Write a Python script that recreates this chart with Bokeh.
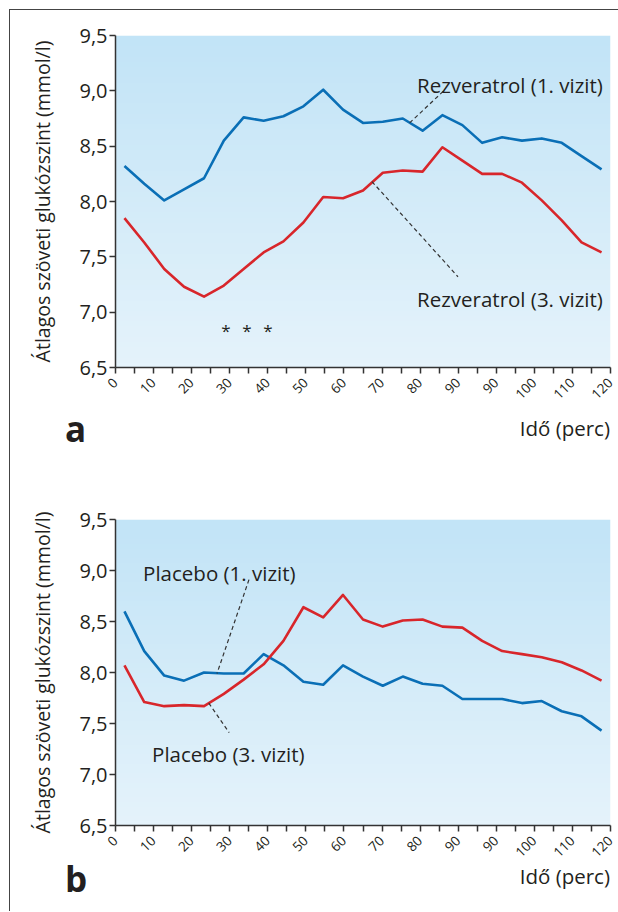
import numpy as np
from bokeh.plotting import figure
from bokeh.layouts import column
from bokeh.models import FixedTicker, Label, Div
from bokeh.core.properties import value
from bokeh.embed import file_html
from bokeh.resources import INLINE

# sample positions along the x axis, in axis-step units (27 ticks, labelled every 2nd)
sample_pos = [0.47, 1.51, 2.56, 3.60, 4.65, 5.69, 6.73, 7.78, 8.82, 9.87, 10.91, 11.95, 13.00,
              14.04, 15.09, 16.13, 17.17, 18.22, 19.26, 20.31, 21.35, 22.39, 23.44, 24.48, 25.53]
x_tick_labels = ["0", "10", "20", "30", "40", "50", "60", "70", "80", "90", "90", "100", "110", "120"]
y_ticks = [6.5, 7.0, 7.5, 8.0, 8.5, 9.0, 9.5]
y_tick_labels = ["6,5", "7,0", "7,5", "8,0", "8,5", "9,0", "9,5"]

# panel a: Rezveratrol
rez_v1 = [8.32, 8.16, 8.01, 8.11, 8.21, 8.55, 8.76, 8.73, 8.77, 8.86, 9.01, 8.83, 8.71,
          8.72, 8.75, 8.64, 8.78, 8.69, 8.53, 8.58, 8.55, 8.57, 8.53, 8.41, 8.29]
rez_v3 = [7.85, 7.63, 7.39, 7.23, 7.14, 7.24, 7.39, 7.54, 7.64, 7.81, 8.04, 8.03, 8.10,
          8.26, 8.28, 8.27, 8.49, 8.37, 8.25, 8.25, 8.17, 8.01, 7.83, 7.63, 7.54]
sig_pos = [5.8, 6.9, 8.0]
sig_level = [6.83, 6.83, 6.83]

# panel b: Placebo
pla_v1 = [8.60, 8.21, 7.97, 7.92, 8.00, 7.99, 7.99, 8.18, 8.07, 7.91, 7.88, 8.07, 7.96,
          7.87, 7.96, 7.89, 7.87, 7.74, 7.74, 7.74, 7.70, 7.72, 7.62, 7.57, 7.43]
pla_v3 = [8.07, 7.71, 7.67, 7.68, 7.67, 7.79, 7.93, 8.08, 8.31, 8.64, 8.54, 8.76, 8.52,
          8.45, 8.51, 8.52, 8.45, 8.44, 8.31, 8.21, 8.18, 8.15, 8.10, 8.02, 7.92]

FONT = "Open Sans"
TXT = "#231f20"
BLUE = "#0a6fb6"
RED = "#d8262b"
AXIS = "#333333"
ANN_SIZE = "20.5px"


def gradient_image():
    top = np.array([194, 228, 247])
    bot = np.array([229, 243, 251])
    n = 64
    img = np.empty((n, 1), dtype=np.uint32)
    view = img.view(dtype=np.uint8).reshape((n, 1, 4))
    for i in range(n):
        t = i / (n - 1)
        c = bot * (1 - t) + top * t
        view[i, 0, 0:3] = c.astype(np.uint8)
        view[i, 0, 3] = 255
    return img


def make_panel(v1, v3, height, border_top, border_bottom):
    p = figure(width=608, height=height, x_range=(0, 26), y_range=(6.5, 9.5),
               output_backend="svg", toolbar_location=None,
               min_border_left=105, min_border_right=8,
               min_border_top=border_top, min_border_bottom=border_bottom)
    p.grid.visible = False
    p.outline_line_color = None
    p.background_fill_color = "white"
    p.border_fill_color = "white"
    p.image_rgba(image=[gradient_image()], x=0, y=6.5, dw=26, dh=3)

    p.line(sample_pos, v1, line_color=BLUE, line_width=2.6, line_join="round")
    p.line(sample_pos, v3, line_color=RED, line_width=2.6, line_join="round")

    xa = p.xaxis[0]
    xa.ticker = FixedTicker(ticks=list(range(27)))
    overrides = {}
    for i in range(27):
        overrides[i] = x_tick_labels[i // 2] if i % 2 == 0 else ""
    xa.major_label_overrides = overrides
    xa.major_label_orientation = np.pi / 4
    ya = p.yaxis[0]
    ya.ticker = FixedTicker(ticks=y_ticks)
    ya.major_label_overrides = {t: s for t, s in zip(y_ticks, y_tick_labels)}
    ya.axis_label = "Átlagos szöveti glukózszint (mmol/l)"
    ya.axis_label_text_font = FONT
    ya.axis_label_text_font_size = "19.5px"
    ya.axis_label_text_font_style = "normal"
    ya.axis_label_text_color = TXT
    ya.axis_label_standoff = 20
    for ax in (xa, ya):
        ax.axis_line_color = AXIS
        ax.axis_line_width = 1.5
        ax.major_tick_line_color = AXIS
        ax.major_tick_line_width = 1.5
        ax.major_tick_out = 6
        ax.major_tick_in = 0
        ax.minor_tick_line_color = None
        ax.major_label_text_font = FONT
        ax.major_label_text_color = TXT
    xa.major_label_standoff = 7
    ya.major_label_standoff = 2
    xa.major_label_text_font_size = "13.5px"
    ya.major_label_text_font_size = "20px"
    return p


def label(p, x, y, text, align="left"):
    p.add_layout(Label(x=x, y=y, text=text, text_font=FONT, text_font_size=ANN_SIZE,
                       text_color=TXT, text_align=align, text_baseline="alphabetic"))


def dashed(p, xs, ys):
    p.line(xs, ys, line_color=AXIS, line_width=1.2, line_dash="4 3")


def caption_row(letter, height, letter_top, axis_top):
    html = (
        f'<div style="position:relative;width:608px;height:{height}px;overflow:visible;'
        f'font-family:\'Open Sans\';color:{TXT};">'
        f'<span style="position:absolute;left:55px;top:{letter_top}px;font-size:35px;'
        f'font-weight:bold;line-height:1;">{letter}</span>'
        f'<span style="position:absolute;right:8px;top:{axis_top}px;font-size:20.5px;'
        f'line-height:1;">Idő (perc)</span></div>'
    )
    return Div(text=html, width=608, height=height, margin=0, styles={"overflow": "visible"})


# ---- panel a
pa = make_panel(rez_v1, rez_v3, 396, 25, 38)
dashed(pa, [15.45, 17.24], [8.71, 9.00])
dashed(pa, [13.47, 17.99], [8.18, 7.32])
label(pa, 25.6, 9.055, "Rezveratrol (1. vizit)", align="right")
label(pa, 25.6, 7.12, "Rezveratrol (3. vizit)", align="right")
pa.text(x=sig_pos, y=sig_level, text=["*", "*", "*"], text_font=value(FONT),
        text_font_size="17px", text_color=TXT, text_align="center", text_baseline="middle")

# ---- panel b
pb = make_panel(pla_v1, pla_v3, 384, 39, 38)
dashed(pb, [7.01, 5.33], [8.91, 7.99])
dashed(pb, [4.90, 5.97], [7.70, 7.41])
label(pb, 1.45, 8.98, "Placebo (1. vizit)")
label(pb, 1.92, 7.20, "Placebo (3. vizit)")

cap_a = caption_row("a", 74, 5, 12)
cap_b = caption_row("b", 47, -3, 2)

layout = column(pa, cap_a, pb, cap_b, margin=(9, 0, 0, 9), spacing=0,
                styles={"border-left": "1.5px solid #444", "border-top": "1.5px solid #444"})

open("out.html", "w").write(file_html(layout, INLINE))
